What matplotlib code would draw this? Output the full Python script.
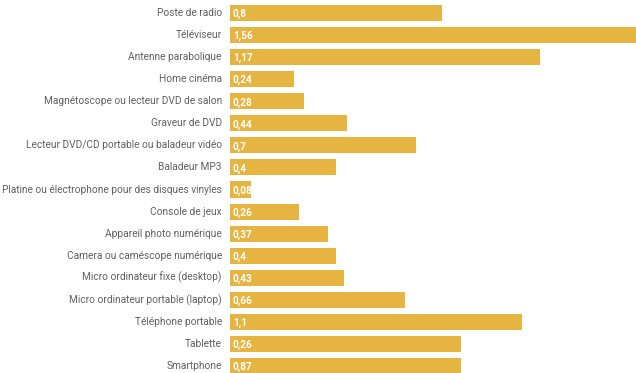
import matplotlib
matplotlib.use("Agg")
import matplotlib.pyplot as plt
import numpy as np

categories = [
    "Poste de radio",
    "Téléviseur",
    "Antenne parabolique",
    "Home cinéma",
    "Magnétoscope ou lecteur DVD de salon",
    "Graveur de DVD",
    "Lecteur DVD/CD portable ou baladeur vidéo",
    "Baladeur MP3",
    "Platine ou électrophone pour des disques vinyles",
    "Console de jeux",
    "Appareil photo numérique",
    "Camera ou caméscope numérique",
    "Micro ordinateur fixe (desktop)",
    "Micro ordinateur portable (laptop)",
    "Téléphone portable",
    "Tablette",
    "Smartphone",
]
# bar lengths as drawn (Tablette bar is drawn at ~0.87 in the source)
values = [0.8, 1.56, 1.17, 0.24, 0.28, 0.44, 0.7, 0.4, 0.08, 0.26,
          0.37, 0.4, 0.43, 0.66, 1.1, 0.87, 0.87]
value_labels = ["0,8", "1,56", "1,17", "0,24", "0,28", "0,44", "0,7", "0,4",
                "0,08", "0,26", "0,37", "0,4", "0,43", "0,66", "1,1", "0,26",
                "0,87"]

plt.rcParams['font.family'] = ['Roboto', 'DejaVu Sans']

W, H = 636, 373
fig = plt.figure(figsize=(W / 100, H / 100), dpi=100)
# rows ~22 px apart, first centre at y=13
ax = fig.add_axes([229 / W, (H - 377) / H, (W - 229) / W, 375 / H])

y = np.arange(len(categories))
bar_h = 0.73
ax.barh(y, values, height=bar_h, color="#E6B441", left=0.004)
ax.vlines(np.full(len(y), -0.002), y - bar_h / 2, y + bar_h / 2,
          color="#333333", linewidth=1.2)

for yi, lab in zip(y, value_labels):
    ax.text(0.015, yi + 0.05, lab, color="white", fontsize=7.2,
            fontweight="bold", va="center", ha="left")
for yi, cat in zip(y, categories):
    ax.text(-0.027, yi, cat, color="#606060", fontsize=7.3,
            va="center", ha="right", clip_on=False)

ax.set_xlim(0, (W - 229) / 265)
ax.set_ylim(len(categories) - 0.5, -0.5)
ax.axis("off")

fig.savefig("out.png", dpi=100)
